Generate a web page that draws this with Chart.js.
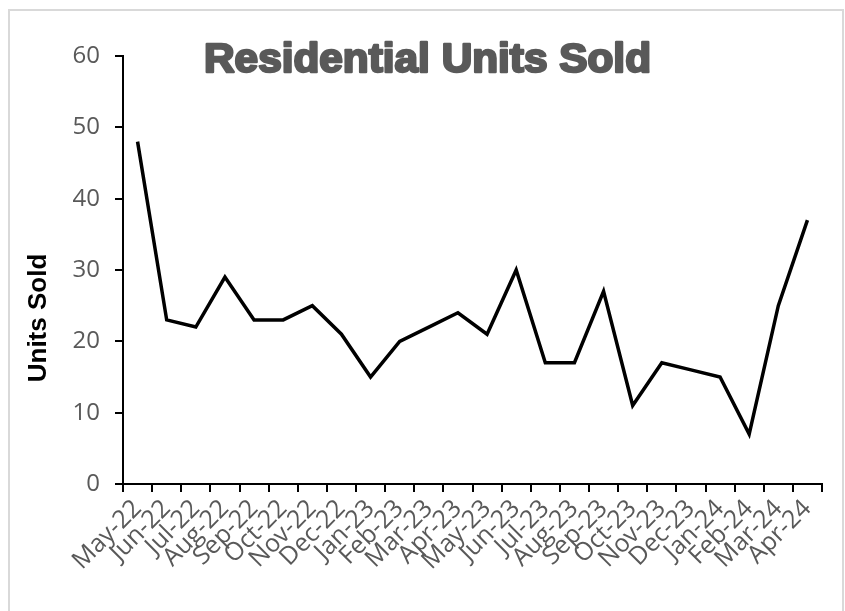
<!DOCTYPE html>
<html>
<head>
<meta charset="utf-8">
<script src="https://cdn.jsdelivr.net/npm/chart.js@4"></script>
<style>
  html, body { margin: 0; padding: 0; background: #fff; }
  #wrap { position: relative; width: 845px; height: 611px; }
</style>
</head>
<body>
<div id="wrap"><canvas id="chart" width="845" height="611"></canvas></div>
<script>
const months = ['May-22', 'Jun-22', 'Jul-22', 'Aug-22', 'Sep-22', 'Oct-22', 'Nov-22', 'Dec-22',
  'Jan-23', 'Feb-23', 'Mar-23', 'Apr-23', 'May-23', 'Jun-23', 'Jul-23', 'Aug-23',
  'Sep-23', 'Oct-23', 'Nov-23', 'Dec-23', 'Jan-24', 'Feb-24', 'Mar-24', 'Apr-24'];
const unitsSold = [48, 23, 22, 29, 23, 23, 25, 21, 15, 20, 22, 24, 21, 30, 17, 17, 27, 11, 17, 16, 15, 7, 25, 37];
const chartTitle = 'Residential Units Sold';
const yTitle = 'Units Sold';

const GRAY = '#595959';
const TICK_FONT = '"Open Sans", sans-serif';

// outer frame, heavy title over the plot and the rotated axis title
const decorations = {
  id: 'decorations',
  beforeDraw(chart) {
    const ctx = chart.ctx;
    ctx.save();
    ctx.strokeStyle = '#d9d9d9';
    ctx.lineWidth = 2;
    ctx.strokeRect(9, 10, 834, 640);
    ctx.restore();
  },
  afterDraw(chart) {
    const ctx = chart.ctx;
    ctx.save();
    ctx.font = 'bold 40px "Liberation Sans", Arial, sans-serif';
    ctx.fillStyle = GRAY;
    ctx.strokeStyle = GRAY;
    ctx.lineWidth = 2.4;
    ctx.lineJoin = 'round';
    ctx.textBaseline = 'alphabetic';
    ctx.textAlign = 'left';
    const w = ctx.measureText(chartTitle).width;
    const target = 447;
    ctx.translate(204, 72);
    ctx.scale(target / w, 1);
    ctx.fillText(chartTitle, 0, 0);
    ctx.strokeText(chartTitle, 0, 0);
    ctx.restore();

    ctx.save();
    ctx.font = 'bold 26px "Liberation Sans", Arial, sans-serif';
    ctx.fillStyle = '#000';
    ctx.textAlign = 'center';
    ctx.textBaseline = 'middle';
    ctx.translate(39, 318);
    ctx.rotate(-Math.PI / 2);
    ctx.fillText(yTitle, 0, 0);
    ctx.restore();
  }
};

function draw() {
  new Chart(document.getElementById('chart'), {
    type: 'line',
    data: {
      labels: months,
      datasets: [{
        label: yTitle,
        data: unitsSold,
        borderColor: '#000',
        borderWidth: 3.5,
        pointRadius: 0,
        tension: 0,
        fill: false
      }]
    },
    options: {
      responsive: false,
      animation: false,
      layout: { padding: { top: 56, right: 23, left: 0, bottom: 0 } },
      plugins: {
        legend: { display: false },
        title: { display: false },
        tooltip: { enabled: false }
      },
      scales: {
        x: {
          offset: true,
          grid: {
            offset: true,
            drawOnChartArea: false,
            drawTicks: true,
            tickLength: 8,
            color: '#000',
            lineWidth: 2
          },
          border: { color: '#000', width: 2 },
          ticks: {
            color: GRAY,
            font: { family: TICK_FONT, size: 25 },
            minRotation: 45,
            maxRotation: 45,
            autoSkip: false,
            padding: 2
          },
          afterFit(scale) { scale.height = 127; }
        },
        y: {
          min: 0,
          max: 60,
          grid: {
            drawOnChartArea: false,
            drawTicks: true,
            tickLength: 8,
            color: '#000',
            lineWidth: 2
          },
          border: { color: '#000', width: 2 },
          ticks: {
            stepSize: 10,
            color: GRAY,
            font: { family: TICK_FONT, size: 24 },
            padding: 15
          },
          afterFit(scale) { scale.width = 123; }
        }
      }
    },
    plugins: [decorations]
  });
}

Promise.all([
  document.fonts.load('25px "Open Sans"'),
  document.fonts.load('bold 40px "Liberation Sans"')
]).then(draw, draw);
</script>
</body>
</html>
